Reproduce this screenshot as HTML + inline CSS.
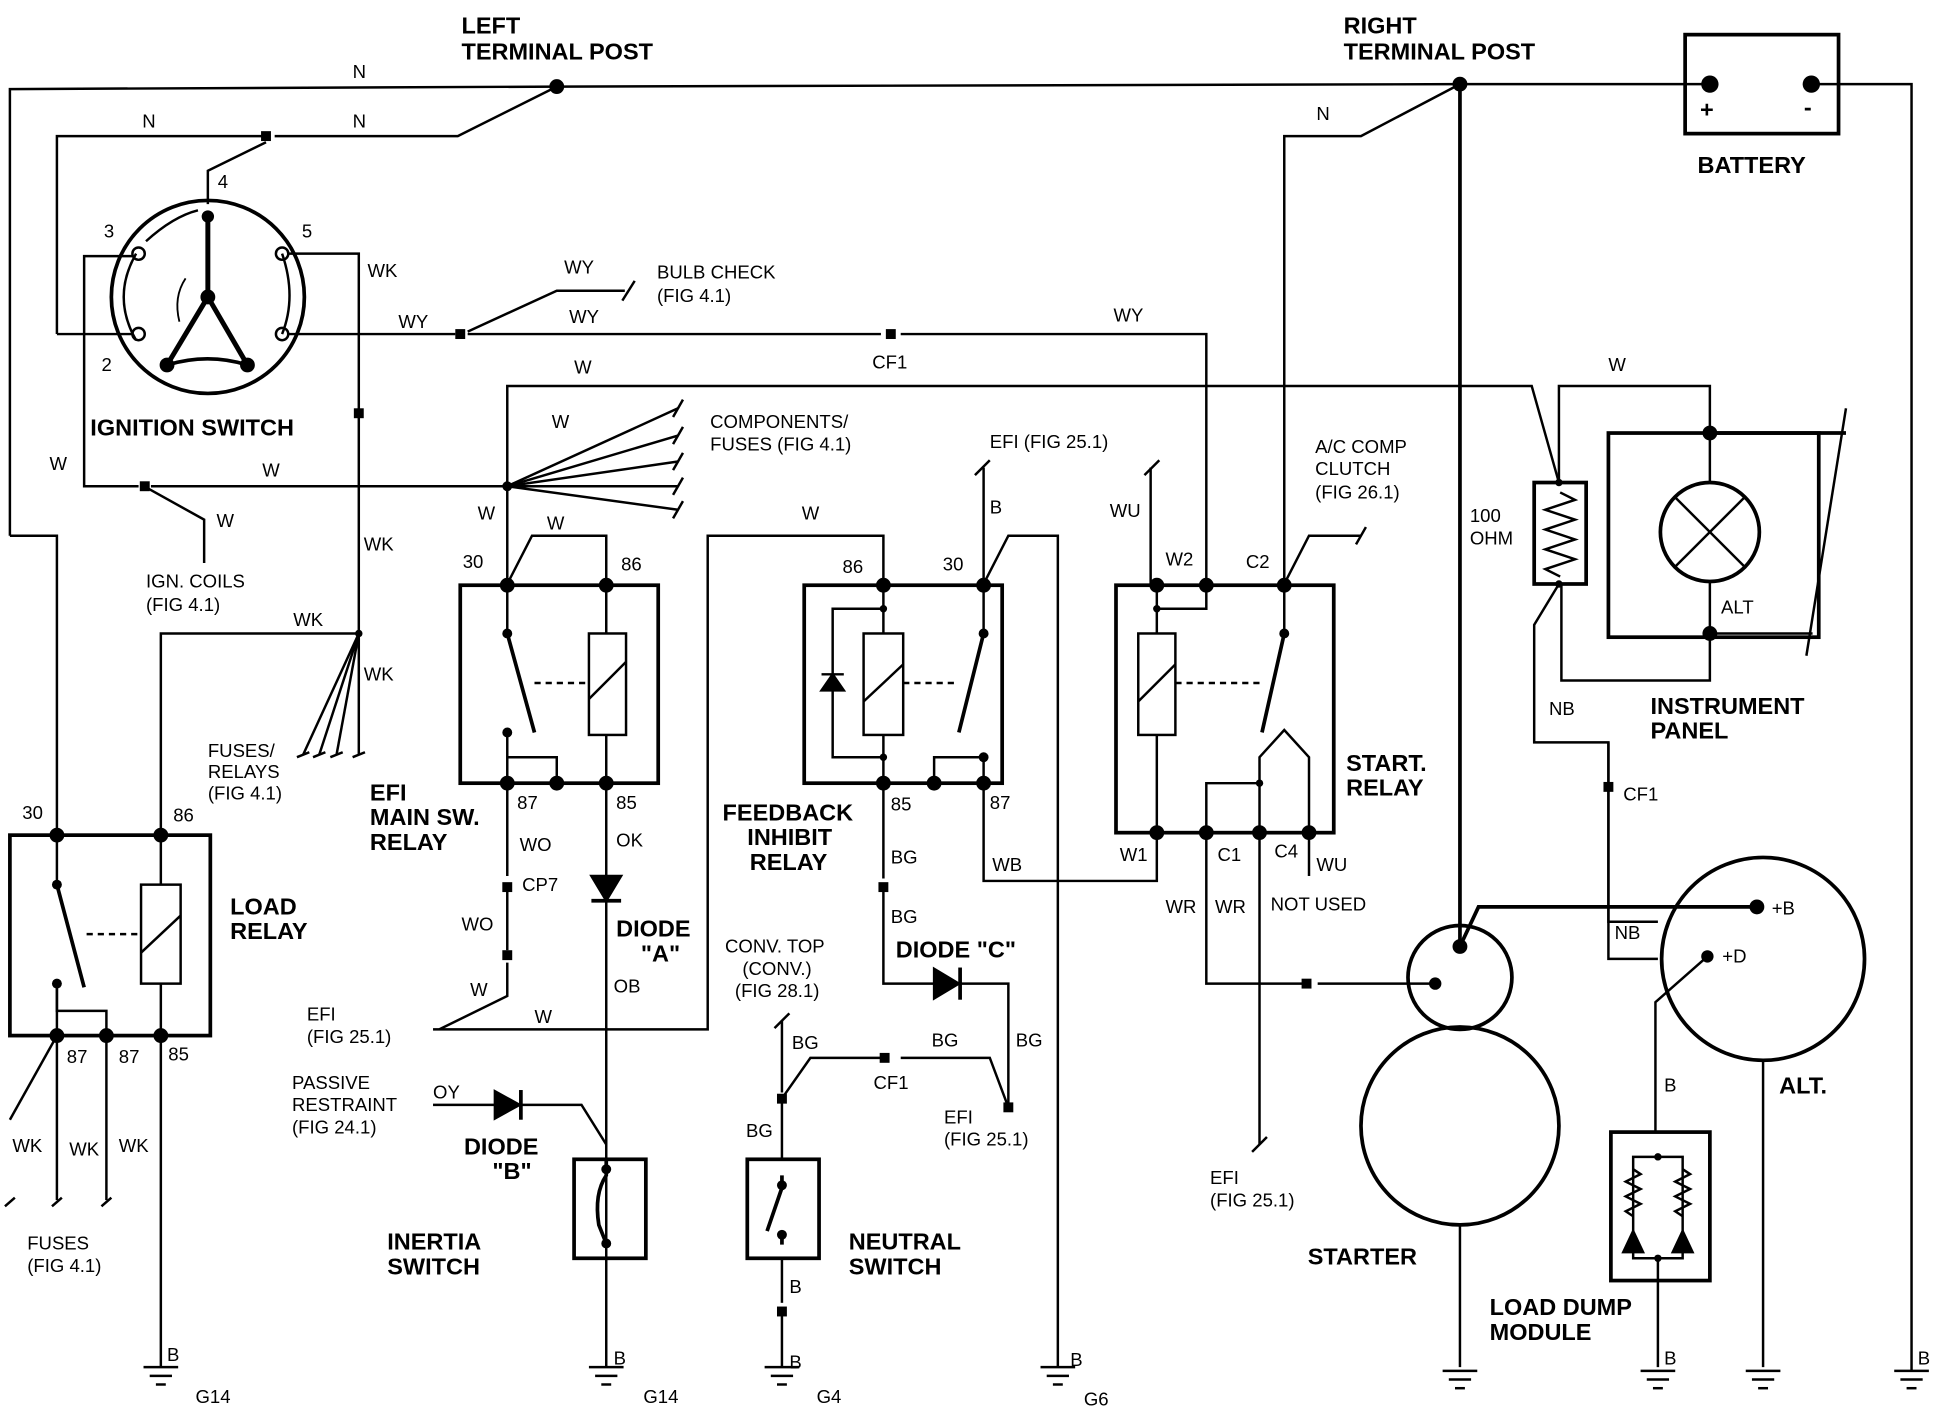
<!DOCTYPE html>
<html><head><meta charset="utf-8"><style>
html,body{margin:0;padding:0;background:#fff;}
svg{display:block;}
text{font-family:"Liberation Sans",sans-serif;fill:#000;}
.b{font-weight:bold;font-size:19px;}
.s{font-size:15px;}
</style></head><body>
<svg width="1940" height="1408" viewBox="0 0 1568 1138" preserveAspectRatio="none" xmlns="http://www.w3.org/2000/svg">
<defs>
<g id="gnd"><line x1="-14" y1="0" x2="14" y2="0" stroke="#000" stroke-width="2"/><line x1="-9" y1="7" x2="9" y2="7" stroke="#000" stroke-width="2"/><line x1="-4" y1="14" x2="4" y2="14" stroke="#000" stroke-width="2"/></g>
</defs>
<g fill="none" stroke="#000" stroke-width="2">
<polyline points="8,433 8,72 450,70 1180,68 1382,68"/>
<polyline points="1464,68 1545,68 1545,1108"/>
<rect x="1362" y="28" width="124" height="80" stroke-width="3"/>
<polyline points="46,270 46,110 215,110"/>
<polyline points="222,110 370,110 450,70"/>
<polyline points="168,165 168,138 215,115"/>
<circle cx="168" cy="240" r="78" stroke-width="3"/>
<line x1="168" y1="175" x2="168" y2="240" stroke-width="4"/>
<line x1="168" y1="240" x2="135" y2="295" stroke-width="4"/>
<line x1="168" y1="240" x2="200" y2="295" stroke-width="4"/>
<path d="M135,295 Q168,285 200,295" stroke-width="3"/>
<path d="M110,205 Q90,240 110,275" stroke-width="2"/>
<path d="M228,205 Q240,240 228,270" stroke-width="2"/>
<path d="M118,195 Q140,175 160,170" stroke-width="2"/>
<path d="M145,260 Q140,240 150,225" stroke-width="1.5"/>
<circle cx="112" cy="205" r="5"/><circle cx="228" cy="205" r="5"/><circle cx="228" cy="270" r="5"/><circle cx="112" cy="270" r="5"/>
<polyline points="107,207 68,207 68,393 112,393"/>
<line x1="46" y1="270" x2="107" y2="270"/>
<polyline points="233,205 290,205 290,610"/>
<line x1="233" y1="270" x2="368" y2="270"/>
<polyline points="378,270 712,270"/>
<polyline points="728,270 975,270 975,472"/>
<polyline points="378,268 450,235 505,235"/>
<line x1="503" y1="243" x2="513" y2="227"/>
<polyline points="410,472 410,312 1238,312 1260,390"/>
<polyline points="1260,390 1260,312 1382,312 1382,350"/>
<rect x="1240" y="390" width="42" height="82" stroke-width="3"/>
<path d="M1261,398 l12,6 -24,8 24,8 -24,8 24,8 -24,8 24,8 -24,8 12,6"/>
<polyline points="1260,472 1240,505 1240,600 1300,600 1300,745 1340,745"/>
<polyline points="1262,472 1262,550 1382,550 1382,512"/>
<rect x="1300" y="350" width="170" height="165" stroke-width="3"/>
<line x1="1382" y1="350" x2="1492" y2="350" stroke-width="3"/>
<line x1="1382" y1="512" x2="1465" y2="512"/>
<line x1="1492" y1="330" x2="1460" y2="530"/>
<circle cx="1382" cy="430" r="40" stroke-width="3"/>
<line x1="1354" y1="402" x2="1410" y2="458" stroke-width="2"/>
<line x1="1410" y1="402" x2="1354" y2="458" stroke-width="2"/>
<line x1="1382" y1="350" x2="1382" y2="390"/><line x1="1382" y1="470" x2="1382" y2="512"/>
<polyline points="122,393 410,393"/>
<polyline points="120,395 165,420 165,455"/>
<g>
<line x1="410" y1="393" x2="548" y2="330"/><line x1="410" y1="393" x2="548" y2="352"/><line x1="410" y1="393" x2="548" y2="373"/><line x1="410" y1="393" x2="548" y2="393"/><line x1="410" y1="393" x2="548" y2="412"/>
<line x1="544" y1="337" x2="552" y2="323"/><line x1="544" y1="359" x2="552" y2="345"/><line x1="544" y1="380" x2="552" y2="366"/><line x1="544" y1="400" x2="552" y2="386"/><line x1="544" y1="419" x2="552" y2="405"/>
</g>
<polyline points="130,675 130,512 290,512"/>
<line x1="290" y1="512" x2="245" y2="610"/><line x1="290" y1="512" x2="258" y2="610"/><line x1="290" y1="512" x2="272" y2="610"/>
<line x1="240" y1="612" x2="250" y2="608"/><line x1="253" y1="612" x2="263" y2="608"/><line x1="267" y1="612" x2="277" y2="608"/><line x1="285" y1="612" x2="295" y2="608"/>
<polyline points="8,433 46,433 46,675"/>
<rect x="8" y="675" width="162" height="162" stroke-width="3"/>
<line x1="46" y1="675" x2="46" y2="715"/><line x1="46" y1="715" x2="68" y2="798" stroke-width="3"/>
<polyline points="46,795 46,817 86,817 86,837"/>
<line x1="46" y1="837" x2="46" y2="795"/>
<rect x="114" y="715" width="32" height="80"/><line x1="114" y1="770" x2="146" y2="740"/>
<line x1="130" y1="675" x2="130" y2="715"/><line x1="130" y1="795" x2="130" y2="1105"/>
<line x1="70" y1="755" x2="114" y2="755" stroke-dasharray="5,4"/>
<line x1="46" y1="837" x2="8" y2="905"/><line x1="46" y1="837" x2="46" y2="970"/><line x1="86" y1="837" x2="86" y2="970"/>
<line x1="4" y1="975" x2="12" y2="968"/><line x1="42" y1="975" x2="50" y2="968"/><line x1="82" y1="975" x2="90" y2="968"/>
<rect x="372" y="473" width="160" height="160" stroke-width="3"/>
<polyline points="410,472 430,433 490,433 490,472"/>
<line x1="410" y1="473" x2="410" y2="512"/><line x1="410" y1="512" x2="432" y2="592" stroke-width="3"/>
<polyline points="410,592 410,633"/><polyline points="410,612 450,612 450,633"/>
<rect x="476" y="512" width="30" height="82"/><line x1="476" y1="565" x2="506" y2="535"/>
<line x1="490" y1="473" x2="490" y2="512"/><line x1="490" y1="594" x2="490" y2="1105"/>
<line x1="432" y1="552" x2="476" y2="552" stroke-dasharray="5,4"/>
<line x1="410" y1="633" x2="410" y2="708"/><line x1="410" y1="718" x2="410" y2="768"/>
<polyline points="410,778 410,805 355,832"/>
<polyline points="350,832 572,832 572,433 714,433 714,472"/>
<polygon points="478,708 502,708 490,728" fill="#000"/><line x1="478" y1="728" x2="502" y2="728" stroke-width="3"/>
<polyline points="350,893 470,893 490,925"/>
<polygon points="400,882 400,904 420,893" fill="#000"/><line x1="421" y1="881" x2="421" y2="905" stroke-width="3"/>
<rect x="464" y="937" width="58" height="80" stroke-width="3"/>
<path d="M490,937 L490,950 Q480,965 484,990 L490,1005" stroke-width="3"/>
<rect x="650" y="473" width="160" height="160" stroke-width="3"/>
<polyline points="795,472 795,378"/><line x1="788" y1="384" x2="800" y2="372"/>
<polyline points="795,472 815,433 855,433 855,1105"/>
<polyline points="714,472 714,512"/><rect x="698" y="512" width="32" height="82"/><line x1="698" y1="567" x2="730" y2="537"/>
<polyline points="714,492 673,492 673,612 714,612"/><line x1="714" y1="594" x2="714" y2="633"/>
<polygon points="664,558 682,558 673,545" fill="#000"/><line x1="664" y1="545" x2="682" y2="545" stroke-width="2"/>
<line x1="795" y1="473" x2="795" y2="512"/><line x1="795" y1="512" x2="775" y2="592" stroke-width="3"/>
<polyline points="795,612 795,633"/><polyline points="755,633 755,612 795,612"/>
<line x1="730" y1="552" x2="775" y2="552" stroke-dasharray="5,4"/>
<polyline points="714,633 714,710"/><polyline points="714,720 714,795 815,795 815,895"/>
<polygon points="755,783 755,807 775,795" fill="#000"/><line x1="776" y1="782" x2="776" y2="808" stroke-width="3"/>
<polyline points="795,633 795,712 935,712 935,673"/>
<line x1="632" y1="825" x2="632" y2="883"/><line x1="626" y1="831" x2="638" y2="819"/>
<polyline points="634,885 655,855 712,855"/><polyline points="728,855 800,855 815,895"/>
<line x1="632" y1="890" x2="632" y2="937"/>
<rect x="604" y="937" width="58" height="80" stroke-width="3"/>
<path d="M632,950 L632,960 L620,995 M632,998 L632,1006" stroke-width="3"/>
<line x1="632" y1="1017" x2="632" y2="1053"/><line x1="632" y1="1063" x2="632" y2="1105"/>
<rect x="902" y="473" width="176" height="200" stroke-width="3"/>
<line x1="935" y1="473" x2="935" y2="512"/><polyline points="935,492 975,492 975,473"/>
<rect x="920" y="512" width="30" height="82"/><line x1="920" y1="567" x2="950" y2="537"/>
<line x1="935" y1="594" x2="935" y2="673"/>
<line x1="1038" y1="473" x2="1038" y2="512"/><line x1="1038" y1="512" x2="1020" y2="592" stroke-width="3"/>
<line x1="950" y1="552" x2="1020" y2="552" stroke-dasharray="5,4"/>
<polyline points="1018,673 1018,612 1038,590 1058,612 1058,673" stroke-width="2"/>
<polyline points="975,673 975,633 1018,633"/>
<line x1="930" y1="378" x2="930" y2="472"/><line x1="925" y1="384" x2="937" y2="372"/>
<polyline points="1038,472 1038,110 1100,110 1180,68"/>
<polyline points="1038,472 1058,433 1100,433"/><line x1="1096" y1="440" x2="1104" y2="426"/>
<polyline points="975,673 975,795 1055,795"/><line x1="1018" y1="673" x2="1018" y2="925"/>
<line x1="1012" y1="931" x2="1024" y2="919"/>
<line x1="1058" y1="673" x2="1058" y2="708"/>
<line x1="1065" y1="795" x2="1160" y2="795"/>
<line x1="1180" y1="68" x2="1180" y2="765" stroke-width="3"/>
<circle cx="1180" cy="790" r="42" stroke-width="3"/>
<circle cx="1180" cy="910" r="80" stroke-width="3"/>
<polyline points="1180,765 1195,733 1420,733" stroke-width="3"/>
<line x1="1180" y1="990" x2="1180" y2="1105"/>
<circle cx="1425" cy="775" r="82" stroke-width="3"/>
<polyline points="1300,745 1300,775 1340,775"/>
<polyline points="1380,773 1338,810 1338,915"/>
<line x1="1425" y1="857" x2="1425" y2="1105"/>
<rect x="1302" y="915" width="80" height="120" stroke-width="3"/>
<polyline points="1320,995 1320,935 1360,935 1360,995"/>
<path d="M1320,945 l6,4 -12,6 12,6 -12,6 12,6 -12,6 6,4"/><path d="M1360,945 l6,4 -12,6 12,6 -12,6 12,6 -12,6 6,4"/>
<polyline points="1320,995 1320,1017 1360,1017 1360,995"/>
<polygon points="1312,1012 1328,1012 1320,995" fill="#000"/><polygon points="1352,1012 1368,1012 1360,995" fill="#000"/>
<line x1="1340" y1="1017" x2="1340" y2="1105"/>
<line x1="1300" y1="600" x2="1300" y2="745"/>
</g>
<g fill="#000">
<circle cx="450" cy="70" r="6"/><circle cx="1180" cy="68" r="6"/><circle cx="1382" cy="68" r="7"/><circle cx="1464" cy="68" r="7"/>
<circle cx="168" cy="175" r="5"/><circle cx="168" cy="240" r="6"/><circle cx="135" cy="295" r="6"/><circle cx="200" cy="295" r="6"/>
<circle cx="410" cy="393" r="4"/><circle cx="290" cy="512" r="3"/>
<circle cx="46" cy="675" r="6"/><circle cx="130" cy="675" r="6"/><circle cx="46" cy="837" r="6"/><circle cx="86" cy="837" r="6"/><circle cx="130" cy="837" r="6"/><circle cx="46" cy="715" r="4"/><circle cx="46" cy="795" r="4"/>
<circle cx="410" cy="473" r="6"/><circle cx="490" cy="473" r="6"/><circle cx="410" cy="633" r="6"/><circle cx="450" cy="633" r="6"/><circle cx="490" cy="633" r="6"/><circle cx="410" cy="512" r="4"/><circle cx="410" cy="592" r="4"/>
<circle cx="714" cy="473" r="6"/><circle cx="795" cy="473" r="6"/><circle cx="714" cy="633" r="6"/><circle cx="755" cy="633" r="6"/><circle cx="795" cy="633" r="6"/><circle cx="714" cy="492" r="3"/><circle cx="714" cy="612" r="3"/><circle cx="795" cy="512" r="4"/><circle cx="795" cy="612" r="4"/>
<circle cx="935" cy="473" r="6"/><circle cx="975" cy="473" r="6"/><circle cx="1038" cy="473" r="6"/><circle cx="935" cy="673" r="6"/><circle cx="975" cy="673" r="6"/><circle cx="1018" cy="673" r="6"/><circle cx="1058" cy="673" r="6"/><circle cx="935" cy="492" r="3"/><circle cx="1038" cy="512" r="4"/><circle cx="1018" cy="633" r="3"/>
<circle cx="1382" cy="350" r="6"/><circle cx="1382" cy="512" r="6"/><circle cx="1260" cy="390" r="3"/><circle cx="1260" cy="472" r="3"/>
<circle cx="1180" cy="765" r="6"/><circle cx="1160" cy="795" r="5"/><circle cx="1420" cy="733" r="6"/><circle cx="1380" cy="773" r="5"/>
<circle cx="1340" cy="935" r="3"/><circle cx="1340" cy="1017" r="3"/>
<rect x="211" y="106" width="8" height="8"/><rect x="113" y="389" width="8" height="8"/><rect x="286" y="330" width="8" height="8"/>
<rect x="368" y="266" width="8" height="8"/><rect x="716" y="266" width="8" height="8"/><rect x="1296" y="632" width="8" height="8"/>
<rect x="406" y="713" width="8" height="8"/><rect x="406" y="768" width="8" height="8"/><rect x="710" y="713" width="8" height="8"/>
<rect x="628" y="884" width="8" height="8"/><rect x="711" y="851" width="8" height="8"/><rect x="628" y="1056" width="8" height="8"/>
<rect x="811" y="891" width="8" height="8"/><rect x="1052" y="791" width="8" height="8"/>
<circle cx="490" cy="945" r="4"/><circle cx="490" cy="1005" r="4"/><circle cx="632" cy="958" r="4"/><circle cx="632" cy="998" r="4"/>
</g>
<use href="#gnd" x="130" y="1105"/><use href="#gnd" x="490" y="1105"/><use href="#gnd" x="632" y="1105"/><use href="#gnd" x="855" y="1105"/>
<use href="#gnd" x="1180" y="1108"/><use href="#gnd" x="1340" y="1108"/><use href="#gnd" x="1425" y="1108"/><use href="#gnd" x="1545" y="1108"/>
<text class="b" x="373" y="27">LEFT</text><text class="b" x="373" y="48">TERMINAL POST</text>
<text class="b" x="1086" y="27">RIGHT</text><text class="b" x="1086" y="48">TERMINAL POST</text>
<text class="b" x="1374" y="95" font-size="22">+</text><text class="b" x="1458" y="93">-</text>
<text class="b" x="1372" y="140">BATTERY</text>
<text class="b" x="73" y="352">IGNITION SWITCH</text>
<text class="b" x="186" y="739">LOAD</text><text class="b" x="186" y="759">RELAY</text>
<text class="b" x="299" y="647">EFI</text><text class="b" x="299" y="667">MAIN SW.</text><text class="b" x="299" y="687">RELAY</text>
<text class="b" x="584" y="663">FEEDBACK</text><text class="b" x="604" y="683">INHIBIT</text><text class="b" x="606" y="703">RELAY</text>
<text class="b" x="1088" y="623">START.</text><text class="b" x="1088" y="643">RELAY</text>
<text class="b" x="1334" y="577">INSTRUMENT</text><text class="b" x="1334" y="597">PANEL</text>
<text class="b" x="498" y="757">DIODE</text><text class="b" x="518" y="777">"A"</text>
<text class="b" x="375" y="933">DIODE</text><text class="b" x="398" y="953">"B"</text>
<text class="b" x="724" y="774">DIODE "C"</text>
<text class="b" x="313" y="1010">INERTIA</text><text class="b" x="313" y="1030">SWITCH</text>
<text class="b" x="686" y="1010">NEUTRAL</text><text class="b" x="686" y="1030">SWITCH</text>
<text class="b" x="1057" y="1022">STARTER</text>
<text class="b" x="1438" y="884">ALT.</text>
<text class="b" x="1204" y="1063">LOAD DUMP</text><text class="b" x="1204" y="1083">MODULE</text>
<g class="s">
<text x="285" y="63">N</text><text x="285" y="103">N</text><text x="115" y="103">N</text><text x="1064" y="97">N</text>
<text x="176" y="152">4</text><text x="84" y="192">3</text><text x="244" y="192">5</text><text x="82" y="300">2</text>
<text x="297" y="224">WK</text><text x="456" y="221">WY</text><text x="460" y="261">WY</text><text x="322" y="265">WY</text><text x="900" y="260">WY</text>
<text x="531" y="225">BULB CHECK</text><text x="531" y="244">(FIG 4.1)</text>
<text x="705" y="298">CF1</text><text x="464" y="302">W</text><text x="1300" y="300">W</text>
<text x="446" y="346">W</text><text x="574" y="346">COMPONENTS/</text><text x="574" y="364">FUSES (FIG 4.1)</text>
<text x="40" y="380">W</text><text x="212" y="385">W</text><text x="175" y="426">W</text><text x="386" y="420">W</text><text x="442" y="428">W</text>
<text x="294" y="445">WK</text><text x="294" y="550">WK</text><text x="237" y="506">WK</text>
<text x="118" y="475">IGN. COILS</text><text x="118" y="494">(FIG 4.1)</text>
<text x="168" y="612">FUSES/</text><text x="168" y="629">RELAYS</text><text x="168" y="646">(FIG 4.1)</text>
<text x="374" y="459">30</text><text x="502" y="461">86</text><text x="681" y="463">86</text><text x="762" y="461">30</text>
<text x="800" y="362">EFI (FIG 25.1)</text><text x="800" y="415">B</text><text x="648" y="420">W</text><text x="897" y="418">WU</text>
<text x="942" y="457">W2</text><text x="1007" y="459">C2</text>
<text x="1063" y="366">A/C COMP</text><text x="1063" y="384">CLUTCH</text><text x="1063" y="403">(FIG 26.1)</text>
<text x="1188" y="422">100</text><text x="1188" y="440">OHM</text><text x="1391" y="496">ALT</text>
<text x="1252" y="578">NB</text><text x="1312" y="647">CF1</text>
<text x="18" y="662">30</text><text x="140" y="664">86</text>
<text x="418" y="654">87</text><text x="498" y="654">85</text><text x="420" y="688">WO</text><text x="498" y="684">OK</text>
<text x="422" y="720">CP7</text><text x="373" y="752">WO</text><text x="380" y="805">W</text><text x="432" y="827">W</text><text x="496" y="802">OB</text>
<text x="248" y="825">EFI</text><text x="248" y="843">(FIG 25.1)</text>
<text x="720" y="655">85</text><text x="800" y="654">87</text><text x="720" y="698">BG</text><text x="720" y="746">BG</text><text x="802" y="704">WB</text>
<text x="905" y="696">W1</text><text x="984" y="696">C1</text><text x="1030" y="693">C4</text><text x="1064" y="704">WU</text>
<text x="942" y="738">WR</text><text x="982" y="738">WR</text><text x="1027" y="736">NOT USED</text>
<text x="586" y="770">CONV. TOP</text><text x="600" y="788">(CONV.)</text><text x="594" y="806">(FIG 28.1)</text>
<text x="640" y="848">BG</text><text x="753" y="846">BG</text><text x="821" y="846">BG</text><text x="706" y="880">CF1</text>
<text x="763" y="908">EFI</text><text x="763" y="926">(FIG 25.1)</text><text x="603" y="919">BG</text>
<text x="236" y="880">PASSIVE</text><text x="236" y="898">RESTRAINT</text><text x="236" y="916">(FIG 24.1)</text><text x="350" y="888">OY</text>
<text x="54" y="859">87</text><text x="96" y="859">87</text><text x="136" y="857">85</text>
<text x="10" y="931">WK</text><text x="56" y="934">WK</text><text x="96" y="931">WK</text>
<text x="22" y="1010">FUSES</text><text x="22" y="1028">(FIG 4.1)</text>
<text x="978" y="957">EFI</text><text x="978" y="975">(FIG 25.1)</text>
<text x="1432" y="739">+B</text><text x="1392" y="778">+D</text><text x="1305" y="759">NB</text><text x="1345" y="882">B</text>
<text x="638" y="1045">B</text><text x="638" y="1106">B</text><text x="496" y="1103">B</text><text x="135" y="1100">B</text><text x="865" y="1104">B</text>
<text x="1345" y="1103">B</text><text x="1550" y="1103">B</text>
<text x="158" y="1134">G14</text><text x="520" y="1134">G14</text><text x="660" y="1134">G4</text><text x="876" y="1136">G6</text>
</g>
</svg>
</body></html>
